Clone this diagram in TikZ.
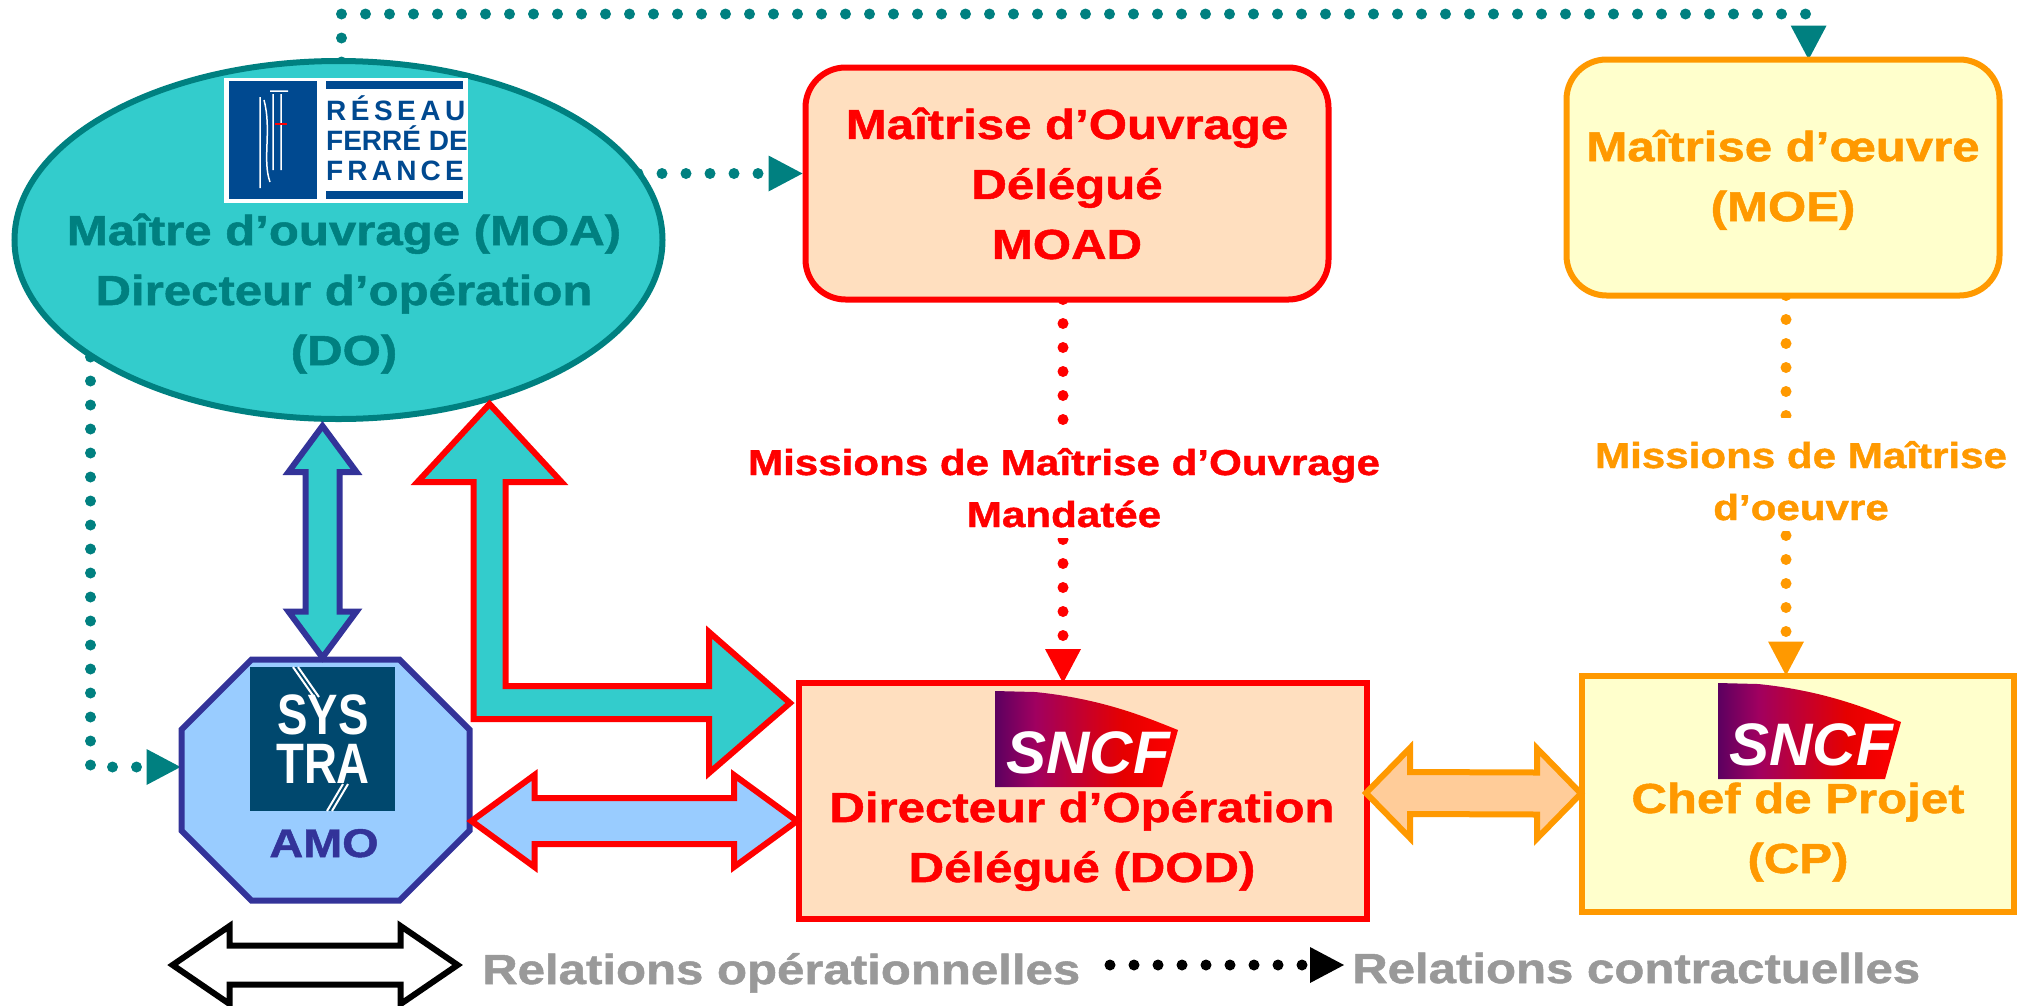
\documentclass[tikz,border=0pt]{standalone}
\usepackage{fontspec}
\setmainfont{Liberation Sans}[FakeStretch=1.17,BoldFeatures={FakeBold=1.2}]
\newfontfamily\logofont{Liberation Sans}
\newfontfamily\systrafont{Liberation Sans}[FakeStretch=0.8]
\usetikzlibrary{arrows.meta,calc,backgrounds,shapes.geometric}
\definecolor{moafill}{HTML}{33CCCC}
\definecolor{moaline}{HTML}{008080}
\definecolor{peach}{HTML}{FFDFBF}
\definecolor{pale}{HTML}{FFFFCC}
\definecolor{amber}{HTML}{FF9900}
\definecolor{amberfill}{HTML}{FFCC99}
\definecolor{amoline}{HTML}{333399}
\definecolor{amofill}{HTML}{99CCFF}
\definecolor{legendgrey}{HTML}{999999}
\definecolor{rffblue}{HTML}{004990}
\definecolor{systrablue}{HTML}{00486E}
\definecolor{sncfdark}{HTML}{5C0060}
\definecolor{sncfmid}{HTML}{A00060}
\pgfdeclarehorizontalshading{sncfshade}{100bp}{color(0bp)=(sncfdark); color(25bp)=(sncfdark); color(36bp)=(sncfmid); color(60bp)=(red!90!black); color(75bp)=(red); color(100bp)=(red)}
\tikzset{
	hblock/.style n args={3}{line join=miter, to path={(\tikztostart) -- ++(#1,-#2) -- ++(0,#2-#3) -- ($(\tikztotarget)+(-#1,-#3)$) -- ++(0,-#2+#3) -- (\tikztotarget) -- ++(-#1,#2) -- ++(0,-#2+#3) -- ($(\tikztostart)+(#1,#3)$) -- ++(0,#2-#3) -- cycle}},
	vblock/.style n args={3}{line join=miter, to path={(\tikztostart) -- ++(-#2,#1) -- ++(#2-#3,0) -- ($(\tikztotarget)+(-#3,-#1)$) -- ++(-#2+#3,0) -- (\tikztotarget) -- ++(#2,-#1) -- ++(-#2+#3,0) -- ($(\tikztostart)+(#3,#1)$) -- ++(#2-#3,0) -- cycle}},
	sncflogo/.pic={
		\shade[shading=sncfshade] (0,0) -- (40,1) .. controls (110,8) and (155,28) .. (183,39) -- (167,96) -- (0,96) -- cycle;
		\node[anchor=base, text=white, inner sep=0, font=\logofont\bfseries\itshape\fontsize{60}{60}\selectfont] (-name) at (93,82) {SNCF};
	}
}
\begin{document}
\begin{tikzpicture}[x=1pt, y=-1pt,
				    state/.style={draw, line width=6pt, inner sep=0, outer sep=0, text centered},
				    moastate/.style={state, ellipse, draw=moaline, fill=moafill, minimum width=648, minimum height=358},
				    moadstate/.style={state, rounded corners=40pt, draw=red, fill=peach, text=red, font=\bfseries\fontsize{42}{60}\selectfont, align=center, minimum width=523, minimum height=232},
				    moestate/.style={state, rounded corners=40pt, draw=amber, fill=pale, text=amber, font=\bfseries\fontsize{42}{60}\selectfont, align=center, minimum width=433, minimum height=236},
				    dodstate/.style={state, draw=red, fill=peach, minimum width=568, minimum height=236},
				    cpstate/.style={state, draw=amber, fill=pale, minimum width=432, minimum height=236},
				    amostate/.style={inner sep=0, outer sep=0, minimum width=288, minimum height=241},
				    amoshape/.style={line width=6pt, line join=miter, draw=amoline, fill=amofill},
				    boxtext/.style={anchor=base, inner sep=0, align=center, font=\bfseries\fontsize{42}{60}\selectfont},
				    mission/.style={anchor=base, fill=white, inner xsep=4pt, inner ysep=3pt, align=center, font=\bfseries\fontsize{36}{52}\selectfont},
				    legend/.style={anchor=base west, inner sep=0, text=legendgrey, font=\bfseries\fontsize{42}{42}\selectfont},
				    dots/.style={line width=11pt, line cap=round, dash pattern=on 0pt off 24pt},
				    tip/.style={-{Triangle[length=34pt, width=36pt, line width=0pt]}},
				    rfftext/.style={anchor=base west, inner sep=0, text=rffblue, font=\logofont\bfseries\fontsize{28}{28}\selectfont},
				    systext/.style={anchor=base, inner sep=0, text=white, font=\systrafont\bfseries\fontsize{57}{57}\selectfont}]
	\useasboundingbox (0,0) rectangle (2026,1005);

	\node[moastate] (moa) at (338.5,240) {};
	\node[moadstate] (moad) at (1067,183.5) {Maîtrise d’Ouvrage\\Délégué\\MOAD};
	\node[moestate] (moe) at (1783,177.5) {\rule{0pt}{36pt}Maîtrise d’œuvre\\(MOE)};
	\node[amostate] (amo) at (325.5,780) {};
	\draw[amoshape] ($(amo.north west)+(70,0)$) -- ($(amo.north east)+(-70,0)$) -- ($(amo.north east)+(0,70)$) -- ($(amo.south east)+(0,-70)$) -- ($(amo.south east)+(-70,0)$) -- ($(amo.south west)+(70,0)$) -- ($(amo.south west)+(0,-70)$) -- ($(amo.north west)+(0,70)$) -- cycle;
	\node[dodstate] (dod) at (1083,801) {};
	\node[cpstate] (cp) at (1798,793.5) {};

	\node[boxtext, text=moaline] (moatext) at (344,365) {Maître d’ouvrage (MOA)\\Directeur d’opération\\(DO)};
	\node[boxtext, text=red] (dodtext) at (1082,882) {Directeur d’Opération\\Délégué (DOD)};
	\node[boxtext, text=amber] (cptext) at (1798,873) {Chef de Projet\\(CP)};
	\node[anchor=base, inner sep=0, text=amoline, font=\bfseries\fontsize{40}{40}\selectfont] (amotext) at (324,857) {AMO};

	\node[mission, text=red] (moadlabel) at (1064,527) {\rule{0pt}{47pt}Missions de Maîtrise d’Ouvrage\\\rule[-8pt]{0pt}{8pt}Mandatée};
	\node[mission, text=amber] (moelabel) at (1801,520) {\rule{0pt}{47pt}Missions de Maîtrise\\\rule[-8pt]{0pt}{8pt}d’oeuvre};

	\coordinate (moaup) at ($(moa.north)+(3,1)$);
	\coordinate (moaleft) at (90.5,357);
	\coordinate (moaright) at (638,173.5);
	\coordinate (moadlow) at ($(moad.south)+(-4,0)$);
	\coordinate (moelow) at ($(moe.south)+(3,0)$);
	\coordinate (legenda) at (1110,965);
	\coordinate (legendb) at (1344,965);

	% contract links run under the boxes
	\begin{scope}[on background layer]
		\draw[dots, tip, moaline] (moaup) -- ++(0,-48) -| ($(moe.north)+(25.6,0)$);
		\draw[dots, tip, moaline] (moaright) -- ($(moad.west)+(-3,-10)$);
		\draw[dots, tip, moaline] (moaleft) |- ($(amo.west)+(-1,-13)$);
		\draw[dots, tip, red] (moadlow) -- (moadlow |- dod.north);
		\draw[dots, tip, amber] (moelow) -- (moelow |- cp.north);
	\end{scope}
	\draw[dots, tip, black] (legenda) -- (legendb);

	% operational links
	\coordinate (moatip) at ($(moa.south)+(151,-15)$);
	\coordinate (dodtip) at ($(dod.west)+(-9,-98)$);
	\draw[line width=6pt, line join=miter, draw=red, fill=moafill] (moatip) -- ++(72,78) -- ++(-56,0) |- ($(dodtip)+(-81,-17)$) -- ++(0,-54) -- (dodtip) -- ++(-81,70) -- ++(0,-54) -| ($(moatip)+(-16,78)$) -- ++(-56,0) -- cycle;
	\coordinate (amotop) at ($(amo.north)+(-3,-2)$);
	\coordinate (moadown) at (amotop |- 0,426);
	\draw[line width=6pt, draw=amoline, fill=moafill, vblock={46}{34}{17}] (moadown) to (amotop);
	\coordinate (amoport) at ($(amo.east)+(2,41)$);
	\coordinate (dodport) at ($(dod.west)+(-2,20)$);
	\draw[line width=6pt, draw=red, fill=amofill, hblock={63}{46}{23}] (amoport) to (dodport);
	\coordinate (dodright) at ($(dod.east)+(-1,-8)$);
	\coordinate (cpleft) at ($(cp.west)+(-1,0)$);
	\draw[line width=6pt, draw=amber, fill=amberfill, hblock={44}{45}{21}] (dodright) to (cpleft);
	\coordinate (legendl) at (172.6,965);
	\coordinate (legendr) at (457.6,965);
	\draw[line width=6pt, draw=black, fill=white, hblock={57}{39}{19.5}] (legendl) to (legendr);

	\node[legend] (legendop) at (482,984) {Relations opérationnelles};
	\node[legend] (legendco) at (1352,983) {Relations contractuelles};

	% logos
	\fill[white] (224,78) rectangle (468,203);
	\fill[rffblue] (228.6,81) rectangle (317,199);
	\fill[rffblue] (326,81) rectangle (463,89);
	\fill[rffblue] (326,191) rectangle (463,199);
	\draw[white, line width=1.5pt] (260,97) -- (260,188) (264,100) .. controls (272,130) and (262,160) .. (270,182) (273,94) -- (273,170) (281,94) -- (281,170) (270,91) -- (288,91);
	\draw[red, line width=1.5pt] (275,124) -- (287,124);
	\node[rfftext] (rffa) at (326,120) {\addfontfeature{LetterSpace=16}RÉSEAU};
	\node[rfftext] (rffb) at (326,150) {FERRÉ DE};
	\node[rfftext] (rffc) at (326,180) {\addfontfeature{LetterSpace=15}FRANCE};

	\fill[systrablue] (250,667) rectangle (395,811);
	\node[systext] (sysa) at (323,734) {SYS};
	\node[systext] (sysb) at (323,783) {TRA};
	\draw[white, line width=2pt] (293,667) -- (314,697) (298,667) -- (319,697) (343,784) -- (327,811) (348,784) -- (332,811);

	\pic (sncfdod) at (995,691) {sncflogo};
	\pic (sncfcp) at (1718,683) {sncflogo};
\end{tikzpicture}
\end{document}
